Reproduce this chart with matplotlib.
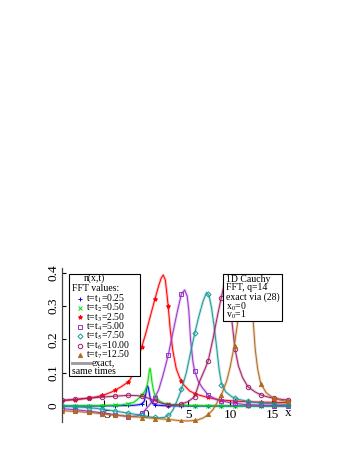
import matplotlib
matplotlib.use("Agg")
import matplotlib.pyplot as plt
from matplotlib.patches import Rectangle
from matplotlib.lines import Line2D

plt.rcParams['font.family'] = ['Liberation Serif', 'DejaVu Serif']
plt.rcParams['mathtext.fontset'] = 'stix'

# x positions of the FFT sample markers
xm = [-10, -8.42, -6.84, -5.26, -3.68, -2.1, -0.52, 1.06, 2.64, 4.22, 5.8,
      7.38, 8.96, 10.54, 12.12, 13.7, 15.28, 16.86]

labels = ['t=t$_1$=0.25', 't=t$_2$=0.50', 't=t$_3$=2.50', 't=t$_4$=5.00',
          't=t$_5$=7.50', 't=t$_6$=10.00', 't=t$_7$=12.50']

# t1 = 0.25
x1 = [-10, -6, -3, -1.5, -0.8, -0.4, -0.2, -0.05, 0.1, 0.2, 0.3, 0.45, 0.6, 0.8, 1.2, 2, 4, 8, 12, 17.2]
y1 = [0, 0, 0.001, 0.002, 0.004, 0.008, 0.015, 0.032, 0.055, 0.06, 0.052, 0.03, 0.015, 0.007, 0.003, 0.001, 0, 0, 0, 0]
m1 = [0, 0, 0, 0, 0.001, 0.002, 0.006, 0.003, 0.001, 0, 0, 0, 0, 0, 0, 0, 0, 0]

# t2 = 0.50
x2 = [-10, -6, -3, -1.5, -1.0, -0.6, -0.2, 0.1, 0.25, 0.38, 0.48, 0.58, 0.72, 0.9, 1.1, 1.6, 2.2, 3.5, 6, 10, 17.2]
y2 = [0, 0.001, 0.003, 0.01, 0.02, 0.03, 0.042, 0.058, 0.078, 0.104, 0.113, 0.1, 0.07, 0.045, 0.03, 0.015, 0.007, 0.003, 0.001, 0, 0]
m2 = [0, 0, 0.001, 0.001, 0.003, 0.006, 0.033, 0.028, 0.006, 0.003, 0.001, 0.001, 0, 0, 0, 0, 0, 0]

# t3 = 2.50
x3 = [-10, -8, -6, -5, -4, -3, -2, -1.5, -1, -0.5, 0, 0.5, 1.0, 1.5, 1.8, 2.05, 2.3, 2.6, 2.9, 3.2, 3.6,
      4.0, 4.5, 5.2, 6, 7, 8, 9, 11, 13, 15, 17.2]
y3 = [0.016, 0.02, 0.027, 0.033, 0.043, 0.057, 0.074, 0.1, 0.14, 0.178, 0.22, 0.268, 0.315, 0.36, 0.383,
      0.393, 0.378, 0.31, 0.225, 0.165, 0.112, 0.085, 0.063, 0.045, 0.035, 0.028, 0.022, 0.018, 0.014,
      0.012, 0.011, 0.01]
m3 = [0.016, 0.019, 0.025, 0.034, 0.048, 0.072, 0.177, 0.32, 0.30, 0.075, 0.037, 0.027, 0.019, 0.015,
      0.013, 0.012, 0.011, 0.01]

# t4 = 5.00
x4 = [-10, -8, -6, -4, -2, -1, -0.3, 0.3, 0.9, 1.5, 2.0, 2.65, 3.2, 3.7, 4.2, 4.6, 4.9, 5.1, 5.3, 5.6,
      5.8, 6.2, 6.7, 7.4, 8.5, 10, 12, 14, 17.2]
y4 = [-0.008, -0.012, -0.018, -0.025, -0.032, -0.03, -0.018, 0.0, 0.018, 0.048, 0.09, 0.153, 0.22, 0.28,
      0.335, 0.348, 0.33, 0.285, 0.2, 0.13, 0.105, 0.075, 0.055, 0.033, 0.018, 0.01, 0.004, 0.002, 0.0]
m4 = [-0.008, -0.012, -0.017, -0.022, -0.028, -0.032, -0.022, 0.025, 0.153, 0.335, 0.105, 0.033, 0.016,
      0.009, 0.004, 0.002, 0.001, 0.0]

# t5 = 7.50
x5 = [-10, -8, -6, -4, -2, -0.5, 0.5, 1.5, 2.2, 2.8, 3.2, 3.6, 4.0, 4.4, 4.8, 5.3, 5.8, 6.3, 6.8, 7.2,
      7.5, 7.8, 8.1, 8.4, 8.7, 9.0, 9.5, 10.2, 11, 12.5, 14, 17.2]
y5 = [0.0, -0.003, -0.007, -0.014, -0.022, -0.028, -0.033, -0.036, -0.034, -0.026, -0.012, 0.01, 0.035,
      0.065, 0.1, 0.16, 0.218, 0.27, 0.315, 0.34, 0.332, 0.295, 0.24, 0.178, 0.11, 0.065, 0.042, 0.028,
      0.02, 0.012, 0.008, 0.004]
m5 = [0.0, -0.003, -0.006, -0.01, -0.015, -0.022, -0.028, -0.034, -0.028, 0.052, 0.218, 0.335, 0.063,
      0.025, 0.014, 0.009, 0.006, 0.004]

# t6 = 10.00
x6 = [-10, -8, -6, -4, -2, -1, 0, 1, 2, 3, 4, 5, 5.8, 6.4, 7.0, 7.4, 8.0, 8.5, 8.96, 9.3, 9.7, 10.0,
      10.2, 10.6, 11.0, 11.5, 12.12, 13, 13.7, 14.5, 15.28, 16.1, 17.2]
y6 = [0.017, 0.021, 0.025, 0.029, 0.032, 0.031, 0.026, 0.016, 0.007, 0.003, 0.004, 0.013, 0.028, 0.075,
      0.11, 0.135, 0.205, 0.27, 0.325, 0.365, 0.385, 0.35, 0.26, 0.17, 0.12, 0.085, 0.058, 0.042, 0.033,
      0.027, 0.023, 0.02, 0.017]
m6 = [0.017, 0.02, 0.023, 0.027, 0.03, 0.032, 0.029, 0.016, 0.004, 0.005, 0.028, 0.135, 0.325, 0.17,
      0.058, 0.033, 0.023, 0.018]

# t7 = 12.50
x7 = [-10, -8, -6, -4, -2, 0, 2, 3, 4, 5, 6, 6.8, 7.4, 8.0, 8.5, 9.0, 9.6, 10.0, 10.5, 10.95, 11.4,
      11.9, 12.4, 12.75, 13.0, 13.3, 13.65, 14.3, 15.2, 16.1, 17.2]
y7 = [-0.014, -0.017, -0.021, -0.027, -0.031, -0.035, -0.039, -0.041, -0.044, -0.045, -0.043, -0.036,
      -0.026, -0.01, 0.012, 0.035, 0.075, 0.115, 0.18, 0.258, 0.34, 0.38, 0.34, 0.258, 0.17, 0.11, 0.068,
      0.04, 0.023, 0.017, 0.012]
m7 = [-0.014, -0.016, -0.019, -0.023, -0.028, -0.031, -0.035, -0.038, -0.04, -0.044, -0.042, -0.024,
      0.032, 0.18, 0.37, 0.065, 0.023, 0.014]

xs = [x1, x2, x3, x4, x5, x6, x7]
ys = [y1, y2, y3, y4, y5, y6, y7]
ms = [m1, m2, m3, m4, m5, m6, m7]

colors = ['#0000ff', '#00dd00', '#ff0000', '#9932cc', '#1a9a9a', '#a0206a', '#b06a1e']
markers = ['+', 'x', '*', 's', 'D', 'o', '^']
msizes = [3.5, 2.8, 3.0, 3.0, 2.6, 3.2, 3.0]
filled = [True, True, True, False, False, False, True]

W, H = 357, 462
fig = plt.figure(figsize=(W / 100, H / 100), dpi=100)
ax = fig.add_axes([62 / W, 40 / H, 228.5 / W, 154 / H])

for x, y, m, c, mk, sz, f in zip(xs, ys, ms, colors, markers, msizes, filled):
    ax.plot(x, y, color=c, lw=2.0, alpha=0.25, solid_capstyle='butt')
    ax.plot(x, y, color=c, lw=0.7)
    ax.plot(xm, m, ls='none', marker=mk, ms=sz, color=c, mew=0.7,
            mfc=c if f else 'none', mec=c)

ax.set_xlim(-10, 17.2)
ax.set_ylim(-0.048, 0.414)
ax.spines['top'].set_visible(False)
ax.spines['right'].set_visible(False)
ax.spines['bottom'].set_position(('data', 0))
ax.spines['bottom'].set_color('none')
ax.spines['left'].set_linewidth(0.9)
ax.spines['left'].set_color('#444444')

ax.set_xticks([-5, 0, 5, 10, 15])
ax.set_yticks([0, 0.1, 0.2, 0.3, 0.4])
ax.set_yticklabels(['0', '0.1', '0.2', '0.3', '0.4'])
ax.tick_params(axis='x', direction='in', length=4, width=0.8, pad=2, labelsize=9.5)
ax.tick_params(axis='y', direction='in', length=3, width=0.8, pad=1.5, labelsize=9.5,
               labelrotation=90)
for lab in ax.get_yticklabels():
    lab.set_verticalalignment('center')
fig.text(288 / W, 1 - 413 / H, 'x', fontsize=9.5, ha='center', va='center')


def fx(px):
    return px / W


def fy(py):
    return 1 - py / H


fs = 7
# left legend box
fig.add_artist(Rectangle((fx(69), fy(376)), (140 - 69) / W, (376 - 274) / H,
                         transform=fig.transFigure, fc='white', ec='black', lw=0.8))
fig.text(fx(94), fy(278.5), 'n(x,t)', fontsize=fs, ha='center', va='center')
fig.text(fx(71.5), fy(288.5), 'FFT values:', fontsize=fs, ha='left', va='center')
rows = [299, 308, 317.3, 326.7, 336, 345.5, 355]
for r, lab, c, mk, sz, f in zip(rows, labels, colors, markers, msizes, filled):
    fig.add_artist(Line2D([fx(80)], [fy(r)], transform=fig.transFigure, ls='none', marker=mk,
                          ms=sz, color=c, mew=0.7, mfc=c if f else 'none', mec=c))
    fig.text(fx(86.5), fy(r), lab, fontsize=fs, ha='left', va='center')
fig.add_artist(Line2D([fx(71.5), fx(90)], [fy(362.5), fy(362.5)], transform=fig.transFigure,
                      color='#999999', lw=2))
fig.text(fx(91.5), fy(362.5), 'exact,', fontsize=fs, ha='left', va='center')
fig.text(fx(71.5), fy(371.5), 'same times', fontsize=fs, ha='left', va='center')

# right info box
fig.add_artist(Rectangle((fx(223), fy(321)), (281.5 - 223) / W, (321 - 274) / H,
                         transform=fig.transFigure, fc='white', ec='black', lw=0.8))
info = ['1D Cauchy', 'FFT, q=14', 'exact via (28)', 'x$_0$=0', 'v$_0$=1']
for r, s in zip([279, 288, 297.5, 306.5, 315], info):
    fig.text(fx(225.5), fy(r), s, fontsize=fs, ha='left', va='center')

fig.savefig('out.png', dpi=100)
